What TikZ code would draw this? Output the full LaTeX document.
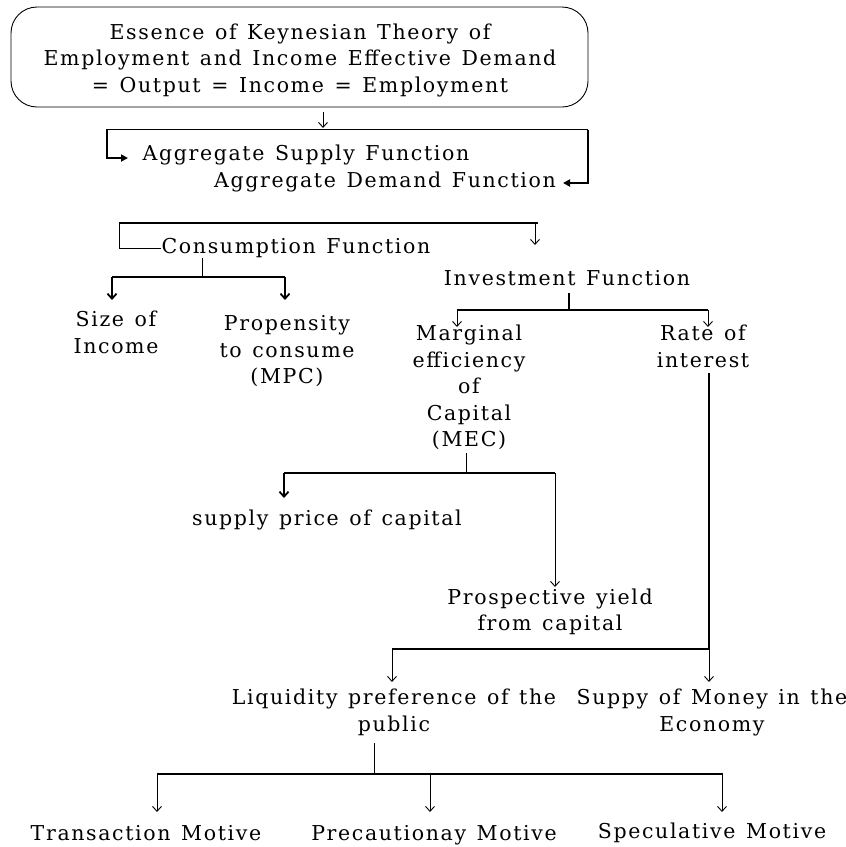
\documentclass[tikz,border=0pt]{standalone}
\usepackage{fontspec}
\setmainfont[LetterSpace=8, WordSpace={1.3}]{DejaVu Serif}
\usetikzlibrary{arrows.meta}
\begin{document}
\begin{tikzpicture}[x=1pt,y=-1pt,
  every node/.style={font=\fontsize{20.5}{26.5}\selectfont, inner sep=0pt, align=center},
  thin line/.style={line width=0.9pt},
  thick line/.style={line width=1.8pt},
  barb/.style={-{Straight Barb[length=5pt,width=9pt]}},
  tri/.style={-{Triangle[length=7pt,width=7pt]}},
  topbox/.style={draw, line width=0.9pt, rounded corners=26pt, minimum width=577pt, minimum height=100pt}
]
\useasboundingbox (0,0) rectangle (846,847);

% nodes
\node[topbox] (top) at (299.5,57) {};
\node (toptxt) at (300,60) {Essence of Keynesian Theory of\\Employment and Income Effective Demand\\= Output = Income = Employment};
\node (asf) at (306,155) {Aggregate Supply Function};
\node (adf) at (385,182) {Aggregate Demand Function};
\node (cons) at (296,248) {Consumption Function};
\node (inv) at (567,278) {Investment Function};
\node (size) at (116,332.5) {Size of\\Income};
\node (prop) at (287,351.5) {Propensity\\to consume\\(MPC)};
\node (mec) at (469,387.5) {Marginal\\efficiency\\of\\Capital\\(MEC)};
\node (rate) at (703,346.5) {Rate of\\interest};
\node (spc) at (327,520) {supply price of capital};
\node (pyc) at (550,612) {Prospective yield\\from capital};
\node (lpp) at (394,712.5) {Liquidity preference of the\\public};
\node (smo) at (712,712.5) {Suppy of Money in the\\Economy};
\node (tm) at (146,833) {Transaction Motive};
\node (pm) at (434,835) {Precautionay Motive};
\node (sm) at (712,833) {Speculative Motive};

% junction coordinates
\coordinate (j1L) at (107,129.5);
\coordinate (j1R) at (588,129.5);
\coordinate (j1a) at (128,158);
\coordinate (j1b) at (563,183);
\coordinate (j2L) at (119,223);
\coordinate (j2R) at (538,223);
\coordinate (j3L) at (112,277);
\coordinate (j3R) at (285,277);
\coordinate (j4L) at (457,310);
\coordinate (j4R) at (708,310);
\coordinate (j5L) at (284,473);
\coordinate (j5R) at (555,473);
\coordinate (j6L) at (392,649);
\coordinate (j6R) at (709,649);
\coordinate (j7L) at (157,774);
\coordinate (j7R) at (723,774);

% top box to aggregate functions
\draw[thin line, barb] (323,112) -- (323,128);
\draw[thick line, tri] (j1R) -- (j1L) -- (107,158) -- (j1a);
\draw[thick line, tri] (j1R) -- (588,183) -- (j1b);

% aggregate to consumption / investment
\draw[thick line] (j2L) -- (j2R);
\draw[thin line] (j2L) -- (119,248) -- (cons.west);
\draw[thin line, barb] (535,223) -- (535,245);

% consumption function branches
\draw[thin line] (202,258) -- (202,277);
\draw[thick line] (j3L) -- (j3R);
\draw[thick line, barb] (j3L) -- (112,300);
\draw[thick line, barb] (j3R) -- (285,300);

% investment function branches
\draw[thick line] (569,293) -- (569,310);
\draw[thick line] (j4L) -- (j4R);
\draw[thin line, barb] (j4L) -- (457,327);
\draw[thin line, barb] (j4R) -- (708,327);

% MEC branches
\draw[thin line] (466,453) -- (466,473);
\draw[thick line] (j5L) -- (j5R);
\draw[thick line, barb] (j5L) -- (284,498);
\draw[thin line, barb] (j5R) -- (555,587);

% rate of interest down
\draw[thick line] (709,373) -- (j6R);
\draw[thin line, barb] (j6R) -- (709,682);
\draw[thick line] (j6L) -- (j6R);
\draw[thin line, barb] (j6L) -- (392,682);

% liquidity preference branches
\draw[thin line] (374,743) -- (374,774);
\draw[line width=1.3pt] (j7L) -- (j7R);
\draw[thin line, barb] (j7L) -- (157,812);
\draw[thin line, barb] (430,774) -- (430,812);
\draw[thin line, barb] (722,774) -- (722,812);
\end{tikzpicture}
\end{document}
